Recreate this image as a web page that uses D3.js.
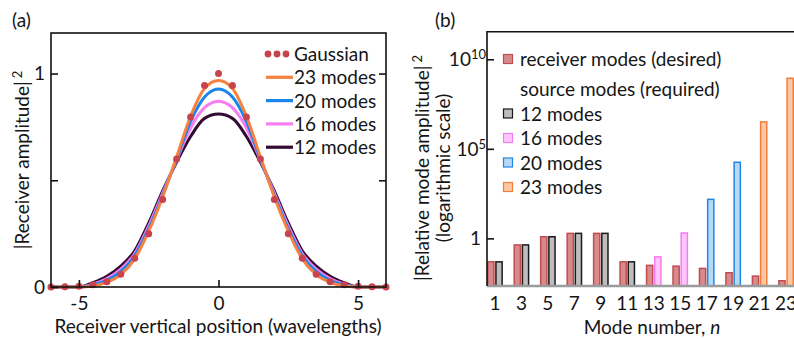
<!DOCTYPE html>
<html>
<head>
<meta charset="utf-8">
<script src="https://cdn.jsdelivr.net/npm/d3@7/dist/d3.min.js"></script>
<style>
  html, body { margin: 0; padding: 0; background: #fff; }
  svg text { font-family: Lato, "Open Sans", sans-serif; fill: #151515; }
</style>
</head>
<body>
<svg id="chart" width="794" height="339"></svg>
<script>
// ---- Panel (a): receiver intensity profiles ----
const positions = [-6,-5.5,-5,-4.5,-4,-3.5,-3,-2.5,-2,-1.5,-1,-0.5,0,0.5,1,1.5,2,2.5,3,3.5,4,4.5,5,5.5,6];
const gaussian  = [0,0.001,0.003,0.01,0.025,0.06,0.135,0.25,0.41,0.60,0.797,0.944,1.0,0.944,0.797,0.60,0.41,0.25,0.135,0.06,0.025,0.01,0.003,0.001,0];
const modes12   = [0,0,0,0.02,0.05,0.098,0.17,0.30,0.45,0.585,0.705,0.79,0.81,0.79,0.705,0.585,0.45,0.30,0.17,0.098,0.05,0.02,0,0,0];
const modes16   = [0,0,0,0.013,0.04,0.084,0.157,0.286,0.44,0.595,0.745,0.84,0.87,0.84,0.745,0.595,0.44,0.286,0.157,0.084,0.04,0.013,0,0,0];
const modes20   = [0,0,0,0.009,0.031,0.073,0.146,0.273,0.43,0.60,0.775,0.89,0.928,0.89,0.775,0.60,0.43,0.273,0.146,0.073,0.031,0.009,0,0,0];
const modes23   = [0,0,0,0.005,0.022,0.058,0.132,0.262,0.422,0.61,0.80,0.93,0.967,0.93,0.80,0.61,0.422,0.262,0.132,0.058,0.022,0.005,0,0,0];
const curveNames  = ["12 modes","16 modes","20 modes","23 modes"];
const curveColors = ["#330a33","#f77ef2","#1b86ea","#f7813e"];
const xTicksA = [-5,0,5];
const yTicksA = [0,0.5,1];
const yLabelsA = {0:"0", 1:"1"};

// ---- Panel (b): mode amplitudes ----
const modeNumbers   = [1,3,5,7,9,11,13,15,17,19,21,23];
const receiverModes = [0.049,0.43,1.23,1.9,1.9,0.049,0.031,0.028,0.021,0.012,0.0078,0.0043];
const sourceModes   = [0.049,0.43,1.23,1.9,1.9,0.049,0.093,2.0,151,17800,3.2e6,8.7e8];
const sourceGroup   = ["12 modes","12 modes","12 modes","12 modes","12 modes","12 modes",
                       "16 modes","16 modes","20 modes","20 modes","23 modes","23 modes"];
const yTicksB = [1,1e5,1e10];

const FS = 19;
const svg = d3.select("#chart");

// ======== Panel (a) ========
const xA = d3.scaleLinear().domain([-6,6]).range([51,386]);
const yA = d3.scaleLinear().domain([0,1.19]).range([287,33]);

const gA = svg.append("g");

const line = d3.line()
  .x((d,i) => xA(positions[i]))
  .y(d => yA(d))
  .curve(d3.curveMonotoneX);

const seriesA = [modes12, modes16, modes20, modes23];
seriesA.forEach((s,k) => {
  gA.append("path")
    .datum(s)
    .attr("d", line)
    .attr("fill","none")
    .attr("stroke", curveColors[k])
    .attr("stroke-width", 3)
    .attr("stroke-linejoin","round");
});

gA.selectAll("circle.gauss")
  .data(gaussian)
  .join("circle")
  .attr("class","gauss")
  .attr("cx",(d,i) => xA(positions[i]))
  .attr("cy", d => yA(d))
  .attr("r", 3.5)
  .attr("fill","#c7444e");

// frame
gA.append("rect")
  .attr("x", 51).attr("y", 33)
  .attr("width", 386-51).attr("height", 287-33)
  .attr("fill","none").attr("stroke","#111").attr("stroke-width",1.6);

const axLeftA = gA.append("g").attr("transform","translate(51,0)")
  .call(d3.axisLeft(yA).tickValues(yTicksA).tickSizeInner(-7).tickSizeOuter(0).tickPadding(6)
        .tickFormat(d => yLabelsA[d] || ""));
const axRightA = gA.append("g").attr("transform","translate(386,0)")
  .call(d3.axisRight(yA).tickValues([0.5,1]).tickSizeInner(-7).tickSizeOuter(0).tickFormat(""));
const axBottomA = gA.append("g").attr("transform","translate(0,287)")
  .call(d3.axisBottom(xA).tickValues(xTicksA).tickSizeInner(-7).tickSizeOuter(0).tickPadding(10)
        .tickFormat(d => d < 0 ? "-" + Math.abs(d) : String(d)));
[axLeftA, axRightA, axBottomA].forEach(a => {
  a.select(".domain").remove();
  a.selectAll(".tick line").attr("stroke","#111").attr("stroke-width",1.6);
  a.selectAll("text").attr("font-size",FS).attr("font-family",null).attr("fill","#151515");
});

gA.append("text").attr("x",12).attr("y",27).attr("font-size",FS).text("(a)");

gA.append("text")
  .attr("transform","translate(29,160) rotate(-90)")
  .attr("text-anchor","middle").attr("font-size",FS)
  .call(t => {
    t.append("tspan").text("|Receiver amplitude|");
    t.append("tspan").attr("dx",3).attr("dy",-7).attr("font-size",13).text("2");
  });

gA.append("text")
  .attr("x",218).attr("y",333)
  .attr("text-anchor","middle").attr("font-size",FS)
  .text("Receiver vertical position (wavelengths)");

// legend (a)
const legA = gA.append("g");
const legRowsA = [
  {name:"Gaussian", dots:true, color:"#c7444e"},
  {name:"23 modes", color:curveColors[3]},
  {name:"20 modes", color:curveColors[2]},
  {name:"16 modes", color:curveColors[1]},
  {name:"12 modes", color:curveColors[0]}
];
legRowsA.forEach((r,i) => {
  const cy = 54 + i*23.3;
  if (r.dots) {
    [268,277,286].forEach(cx => legA.append("circle").attr("cx",cx).attr("cy",cy).attr("r",3.4).attr("fill",r.color));
  } else {
    legA.append("line").attr("x1",266).attr("x2",293).attr("y1",cy).attr("y2",cy)
      .attr("stroke",r.color).attr("stroke-width",3.2);
  }
  legA.append("text").attr("x",294).attr("y",cy+7).attr("font-size",FS).text(r.name);
});

// ======== Panel (b) ========
const bLeft = 487, bRight = 794, bTop = 31.7, bBase = 286;
const xB = d3.scaleBand().domain(modeNumbers).range([bLeft,bRight]).paddingInner(0.4).paddingOuter(0);
const xIn = d3.scaleBand().domain(["receiver","source"]).range([0, xB.bandwidth()]).paddingInner(0.06);
const yB = d3.scaleLog().domain([Math.pow(10,-2.66), Math.pow(10,11.54)]).range([bBase, bTop]);

const groupStyle = {
  "receiver": {fill:"#d78a8b", stroke:"#bf4d50"},
  "12 modes": {fill:"#bdbdbd", stroke:"#1a1a1a"},
  "16 modes": {fill:"#ffc6fd", stroke:"#f27cf0"},
  "20 modes": {fill:"#b6d9f6", stroke:"#2187e6"},
  "23 modes": {fill:"#fdc7a6", stroke:"#f47d3c"}
};

const gB = svg.append("g");

gB.selectAll("rect.recv")
  .data(receiverModes)
  .join("rect")
  .attr("class","recv")
  .attr("x",(d,i) => xB(modeNumbers[i]) + xIn("receiver") + 0.75)
  .attr("width", xIn.bandwidth() - 1.5)
  .attr("y", d => yB(d))
  .attr("height", d => bBase - yB(d))
  .attr("fill", groupStyle.receiver.fill)
  .attr("stroke", groupStyle.receiver.stroke)
  .attr("stroke-width",1.5);

gB.selectAll("rect.src")
  .data(sourceModes)
  .join("rect")
  .attr("class","src")
  .attr("x",(d,i) => xB(modeNumbers[i]) + xIn("source") + 0.75)
  .attr("width", xIn.bandwidth() - 1.5)
  .attr("y", d => yB(d))
  .attr("height", d => bBase - yB(d))
  .attr("fill", (d,i) => groupStyle[sourceGroup[i]].fill)
  .attr("stroke", (d,i) => groupStyle[sourceGroup[i]].stroke)
  .attr("stroke-width",1.5);

// baseline and frame
gB.append("line").attr("x1",bLeft).attr("x2",bRight).attr("y1",bBase).attr("y2",bBase)
  .attr("stroke","#9b9b9b").attr("stroke-width",2.5);
gB.append("path")
  .attr("d", `M${bLeft},${bBase}V${bTop}H${bRight}`)
  .attr("fill","none").attr("stroke","#111").attr("stroke-width",1.6);

const axLeftB = gB.append("g").attr("transform",`translate(${bLeft},0)`)
  .call(d3.axisLeft(yB).tickValues(yTicksB).tickSizeInner(-7).tickSizeOuter(0).tickFormat(""));
axLeftB.select(".domain").remove();
axLeftB.selectAll(".tick line").attr("stroke","#111").attr("stroke-width",1.6);

// y tick labels with superscript exponents
yTicksB.forEach(v => {
  const exp = Math.round(Math.log10(v));
  const t = gB.append("text").attr("x", bLeft - 1).attr("y", yB(v) + 7)
    .attr("text-anchor","end").attr("font-size",FS);
  if (exp === 0) {
    t.attr("x", bLeft - 6).text("1");
  } else {
    t.append("tspan").text("10");
    t.append("tspan").attr("dy",-7).attr("font-size",13).text(String(exp));
  }
});

const axBottomB = gB.append("g").attr("transform",`translate(0,${bBase})`)
  .call(d3.axisBottom(xB).tickSize(0).tickPadding(11));
axBottomB.select(".domain").remove();
axBottomB.selectAll("text").attr("font-size",FS).attr("font-family",null).attr("fill","#151515");

gB.append("text").attr("x",435).attr("y",27).attr("font-size",FS).text("(b)");

gB.append("text")
  .attr("transform","translate(429,168) rotate(-90)")
  .attr("text-anchor","middle").attr("font-size",FS)
  .call(t => {
    t.append("tspan").text("|Relative mode amplitude|");
    t.append("tspan").attr("dx",3).attr("dy",-7).attr("font-size",13).text("2");
  });
gB.append("text")
  .attr("transform","translate(450,168) rotate(-90)")
  .attr("text-anchor","middle").attr("font-size",FS)
  .text("(logarithmic scale)");

gB.append("text")
  .attr("x",652).attr("y",334)
  .attr("text-anchor","middle").attr("font-size",FS)
  .call(t => {
    t.append("tspan").text("Mode number, ");
    t.append("tspan").attr("font-style","italic").text("n");
  });

// legend (b)
const legB = gB.append("g");
const legRowsB = [
  {name:"receiver modes (desired)", key:"receiver", y:59},
  {name:"source modes (required)", key:null, y:89},
  {name:"12 modes", key:"12 modes", y:113.5},
  {name:"16 modes", key:"16 modes", y:138},
  {name:"20 modes", key:"20 modes", y:162.5},
  {name:"23 modes", key:"23 modes", y:187}
];
legRowsB.forEach(r => {
  if (r.key) {
    legB.append("rect").attr("x",503.5).attr("y",r.y-4.5).attr("width",9).attr("height",9)
      .attr("fill",groupStyle[r.key].fill).attr("stroke",groupStyle[r.key].stroke).attr("stroke-width",1.2);
  }
  legB.append("text").attr("x",520).attr("y",r.y+7).attr("font-size",FS).text(r.name);
});
</script>
</body>
</html>
